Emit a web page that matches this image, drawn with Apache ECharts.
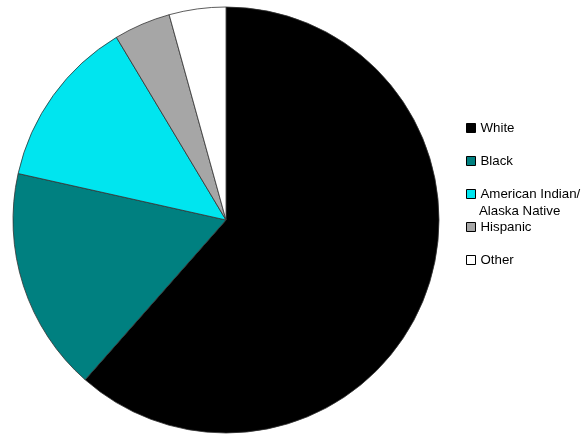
<!DOCTYPE html>
<html>
<head>
<meta charset="utf-8">
<script src="https://cdn.jsdelivr.net/npm/echarts@6/dist/echarts.min.js"></script>
<style>
  html, body { margin: 0; padding: 0; background: #ffffff; }
  #chart { width: 581px; height: 436px; }
</style>
</head>
<body>
<div id="chart"></div>
<script>
// groups, in the order they are drawn (clockwise from 12 o'clock)
const groups = ['White', 'Black', 'American Indian/\nAlaska Native', 'Hispanic', 'Other'];
const shares = [61.5, 17.0, 12.9, 4.3, 4.3];
const colors = ['#000000', '#008080', '#00E5EF', '#A6A6A6', '#FFFFFF'];

const chart = echarts.init(document.getElementById('chart'));

chart.setOption({
    animation: false,
    backgroundColor: '#ffffff',
    legend: {
        orient: 'vertical',
        left: 466,
        top: 120,
        padding: 0,
        itemWidth: 9,
        itemHeight: 9,
        itemGap: 17,
        icon: 'rect',
        itemStyle: { borderColor: '#000', borderWidth: 1 },
        // only the first line goes in the legend row, the second is placed below
        formatter: function (name) {
            return name.split('\n')[0];
        },
        textStyle: {
            fontFamily: 'Liberation Sans, Arial, sans-serif',
            fontSize: 13.3,
            lineHeight: 16,
            color: '#000'
        },
        data: groups
    },
    graphic: [
        {
            type: 'text',
            left: 479,
            top: 205,
            style: {
                text: 'Alaska Native',
                font: '13.3px "Liberation Sans", Arial, sans-serif',
                fill: '#000'
            }
        }
    ],
    series: [
        {
            type: 'pie',
            center: [226, 220],
            radius: 213,
            startAngle: 90,
            clockwise: true,
            label: { show: false },
            labelLine: { show: false },
            emphasis: { disabled: true },
            itemStyle: { borderColor: '#333', borderWidth: 0.8 },
            data: groups.map(function (g, i) {
                return { name: g, value: shares[i], itemStyle: { color: colors[i] } };
            })
        }
    ]
});
</script>
</body>
</html>
